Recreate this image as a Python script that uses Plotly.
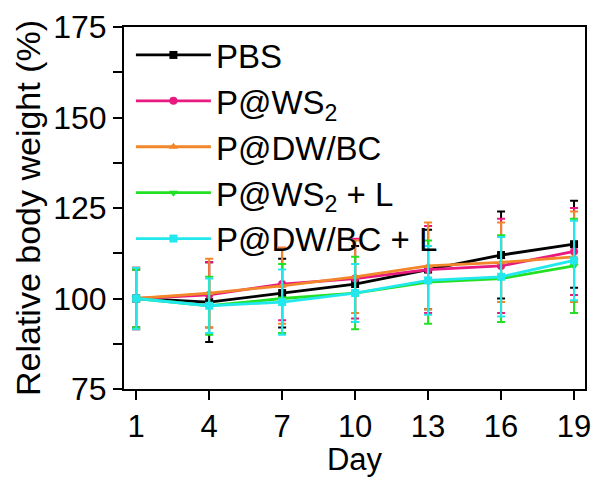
import plotly.graph_objects as go

days = [1, 4, 7, 10, 13, 16, 19]
y_ticks = [75, 87.5, 100, 112.5, 125, 137.5, 150, 162.5, 175]
y_ticktext = ["75", "", "100", "", "125", "", "150", "", "175"]

names = ["PBS", "P@WS<sub>2</sub>", "P@DW/BC", "P@WS<sub>2</sub> + L", "P@DW/BC + L"]
colors = ["#000000", "#E8197F", "#F2862A", "#22E022", "#22E8EE"]
symbols = ["square", "circle", "triangle-up", "triangle-down", "square"]

pbs = [100, 99, 101.5, 104, 108, 112, 115]
pws2 = [100, 101, 104, 105.5, 108, 109, 113]
pdwbc = [100, 101.5, 103.5, 106, 109, 110, 111.5]
pws2_l = [100, 98, 100, 101.5, 104.5, 105.5, 109]
pdwbc_l = [100, 98, 99, 101.5, 105, 106, 110.5]

pbs_err = [8, 11, 9.5, 10.5, 11, 12, 12]
pws2_err = [8.5, 9, 10, 11, 12, 13, 12]
pdwbc_err = [8.5, 9.5, 10.5, 10, 12, 11, 12.5]
pws2_l_err = [8, 8, 9.5, 10, 11.5, 12, 13]
pdwbc_l_err = [8.5, 7.5, 9, 8, 9.5, 11, 11]

series = [pbs, pws2, pdwbc, pws2_l, pdwbc_l]
errors = [pbs_err, pws2_err, pdwbc_err, pws2_l_err, pdwbc_l_err]

fig = go.Figure()
for name, col, sym, ys, es in zip(names, colors, symbols, series, errors):
    fig.add_trace(go.Scatter(
        x=days, y=ys, name=name, mode="lines+markers",
        line=dict(color=col, width=2.8),
        marker=dict(symbol=sym, size=8, color=col),
        error_y=dict(type="data", array=es, visible=True, color=col,
                     thickness=2, width=4),
    ))

font = "Liberation Sans, Arial, sans-serif"
axis_common = dict(
    showline=True, linecolor="black", linewidth=2, mirror=True,
    ticks="outside", ticklen=9, tickwidth=2, tickcolor="black",
    showgrid=False, zeroline=False,
)
fig.update_xaxes(range=[0.5, 19.45], tickvals=days,
                 tickfont=dict(family=font, size=31, color="black"),
                 title=dict(text="Day", font=dict(family=font, size=31, color="black"), standoff=2),
                 **axis_common)
fig.update_yaxes(range=[75, 175], tickvals=y_ticks, ticktext=y_ticktext,
                 tickfont=dict(family=font, size=32, color="black"),
                 title=dict(text="Relative body weight (%)", font=dict(family=font, size=34, color="black"), standoff=2),
                 **axis_common)

fig.update_layout(
    width=600, height=477,
    margin=dict(l=124, r=9, t=25, b=85),
    plot_bgcolor="white", paper_bgcolor="white",
    font=dict(family=font, color="black"),
    legend=dict(x=0.015, y=1.0, xanchor="left", yanchor="top",
                bgcolor="rgba(0,0,0,0)", font=dict(family=font, size=33, color="black"),
                itemwidth=75, tracegroupgap=0),
    showlegend=True,
)

fig.write_html("out.html")
